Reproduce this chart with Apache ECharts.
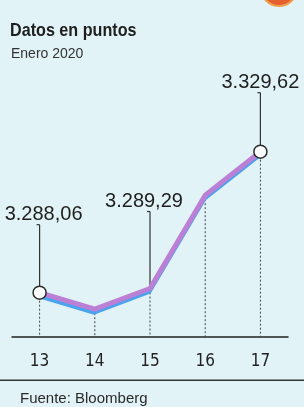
<!DOCTYPE html>
<html>
<head>
<meta charset="utf-8">
<script src="https://cdn.jsdelivr.net/npm/echarts@6/dist/echarts.min.js"></script>
<style>
html,body{margin:0;padding:0;background:#e2f3f7;}
#c{width:304px;height:407px;}
</style>
</head>
<body>
<div id="c"></div>
<script>
// ---- data ----
var categories = ['13', '14', '15', '16', '17'];
var values = [3288.06, 3283.2, 3289.29, 3316.8, 3329.62];
var valueLabels = ['3.288,06', '', '3.289,29', '', '3.329,62'];
var circled = [true, false, false, false, true];
var yMin = 3275, yMax = 3345;

// ---- styling for callouts (pixels) ----
var calloutStyle = [
  {len: 68, dx: 4},
  null,
  {len: 77, dx: -6},
  null,
  {len: 59, dx: 0}
];

var FONT_C = '"Liberation Sans Narrow","DejaVu Sans Condensed",sans-serif';
var FONT = '"Liberation Sans","Roboto",sans-serif';

var chart = echarts.init(document.getElementById('c'), null, {renderer: 'canvas'});

var lineData = values.map(function (v, i) {
  return {
    value: v,
    symbol: circled[i] ? 'circle' : 'none',
    symbolSize: 13
  };
});

var customData = values.map(function (v, i) { return [i, v]; });

chart.setOption({
  backgroundColor: '#e2f3f7',
  animation: false,
  grid: {left: 12, right: 16, top: 99.5, bottom: 70},
  xAxis: {
    type: 'category',
    data: categories,
    boundaryGap: true,
    axisLine: {lineStyle: {color: '#222', width: 1.5}},
    axisTick: {show: false},
    axisLabel: {fontFamily: FONT_C, fontSize: 17, color: '#222', margin: 16}
  },
  yAxis: {
    type: 'value',
    min: yMin,
    max: yMax,
    show: false,
    splitLine: {show: false}
  },
  graphic: [
    {type: 'circle', shape: {cx: 279, cy: -12, r: 18}, style: {fill: '#e5602c', stroke: '#f0a050', lineWidth: 2}, z: 0},
    {type: 'text', left: 10, top: 21, scaleX: 0.85, originX: 0,
      style: {text: 'Datos en puntos', font: 'bold 19px "Liberation Sans", sans-serif', fill: '#1e1e1e'}},
    {type: 'text', left: 11, top: 47,
      style: {text: 'Enero 2020', font: '14px "Liberation Sans", sans-serif', fill: '#333'}},
    {type: 'rect', shape: {x: 0, y: 379.5, width: 304, height: 1.5}, style: {fill: '#333'}},
    {type: 'text', left: 20, top: 391, style: {text: 'Fuente: Bloomberg', font: '15px "Liberation Sans", sans-serif', fill: '#2a2a2a'}}
  ],
  series: [
    {
      type: 'custom',
      data: customData,
      z: 1,
      renderItem: function (params, api) {
        var i = api.value(0), v = api.value(1);
        var p = api.coord([i, v]);
        var b = api.coord([i, yMin]);
        var children = [{
          type: 'line',
          shape: {x1: p[0], y1: p[1], x2: b[0], y2: b[1]},
          style: {stroke: '#444', lineWidth: 1, lineDash: [2, 2]}
        }];
        var cs = calloutStyle[i];
        if (cs) {
          var topY = p[1] - cs.len;
          children.push({
            type: 'line',
            shape: {x1: p[0], y1: p[1], x2: p[0], y2: topY},
            style: {stroke: '#333', lineWidth: 1.2}
          });
          children.push({
            type: 'line',
            shape: {x1: p[0] - 3, y1: topY, x2: p[0], y2: topY},
            style: {stroke: '#333', lineWidth: 1.2}
          });
          children.push({
            type: 'text',
            x: p[0] + cs.dx,
            y: topY - 10,
            style: {
              text: valueLabels[i],
              font: '20px ' + FONT,
              fill: '#1e1e1e',
              align: 'center',
              verticalAlign: 'middle'
            }
          });
        }
        return {type: 'group', children: children};
      }
    },
    {
      type: 'line',
      data: lineData,
      z: 3,
      showSymbol: true,
      lineStyle: {
        color: '#bb7fd6',
        width: 5,
        shadowColor: '#4aa3ee',
        shadowOffsetY: 3,
        shadowOffsetX: -1,
        shadowBlur: 0
      },
      itemStyle: {color: '#fbfdfd', borderColor: '#2a2a2a', borderWidth: 1.5},
      emphasis: {disabled: true}
    }
  ]
});
</script>
</body>
</html>
